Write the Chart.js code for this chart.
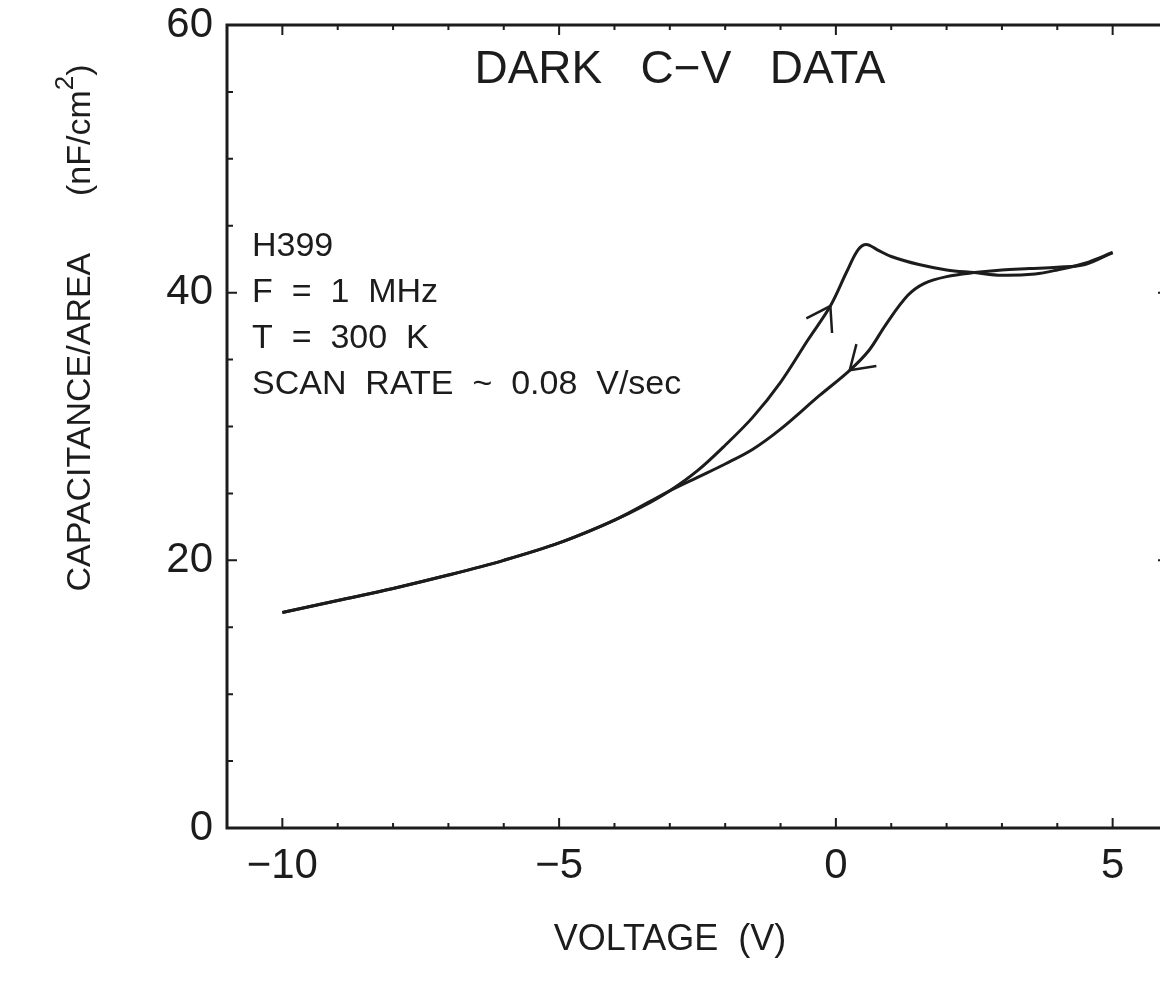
<!DOCTYPE html>
<html>
<head>
<meta charset="utf-8">
<title>Dark C-V data</title>
<script src="https://cdn.jsdelivr.net/npm/chart.js@4.4.1/dist/chart.umd.min.js"></script>
<style>
  html, body { margin: 0; padding: 0; background: #fff; overflow: hidden; }
  #wrap { width: 1200px; height: 984px; }
</style>
</head>
<body>
<div id="wrap"><canvas id="cvChart" width="1200" height="984"></canvas></div>
<script>
// forward sweep, -10 V -> +5 V
const fwdVolts = [-10, -9, -8, -7, -6, -5, -4, -3.5, -3, -2.5, -2, -1.5, -1, -0.5, -0.1, 0.2, 0.4, 0.55, 0.75, 1.0, 1.5, 2.0, 2.5, 3.0, 3.6, 4.0, 4.5, 5.0];
const fwdCap   = [16.1, 17.0, 17.9, 18.9, 20.0, 21.3, 23.0, 24.0, 25.2, 26.7, 28.6, 30.7, 33.3, 36.5, 39.0, 41.6, 43.2, 43.6, 43.2, 42.7, 42.1, 41.7, 41.5, 41.3, 41.4, 41.7, 42.2, 43.0];

// reverse sweep, +5 V -> -10 V
const revVolts = [5.0, 4.5, 4.0, 3.5, 3.0, 2.5, 2.0, 1.6, 1.3, 0.9, 0.6, 0.25, -0.3, -1.0, -1.5, -2.0, -2.5, -3, -4, -5, -6, -7, -8, -9, -10];
const revCap   = [43.0, 42.1, 41.9, 41.8, 41.7, 41.5, 41.2, 40.7, 39.8, 37.6, 35.7, 34.2, 32.3, 29.8, 28.3, 27.2, 26.2, 25.2, 23.0, 21.3, 20.0, 18.9, 17.9, 17.0, 16.1];

// sweep direction arrows sit on these points
const fwdArrowAt = [14];
const revArrowAt = [11];

const xTicks = [-10, -5, 0, 5];
const yTicks = [0, 20, 40, 60];

const infoLines = ['H399', 'F  =  1  MHz', 'T  =  300  K', 'SCAN  RATE  ~  0.08  V/sec'];

const INK = '#1c1c1c';
const FONT = "'Liberation Sans', Arial, sans-serif";

Chart.defaults.font.family = FONT;
Chart.defaults.color = INK;

const toPoints = (xs, ys) => xs.map((x, i) => ({ x: x, y: ys[i] }));
const fmtMinus = v => (v < 0 ? '\u2212' + Math.abs(v) : String(v));

// keep the plot box where the layout padding puts it
const noEdgePadding = s => {
  s.paddingTop = 0; s.paddingBottom = 0;
  s.paddingLeft = 0; s.paddingRight = 0;
};

// frame, inward tick marks, arrows and the in-plot text
const decorations = {
  id: 'decorations',
  afterDatasetsDraw(chart) {
    const { ctx, chartArea: a, scales: { x, y } } = chart;
    ctx.save();
    ctx.strokeStyle = INK;
    ctx.lineWidth = 3;
    ctx.strokeRect(a.left, a.top, a.right - a.left, a.bottom - a.top);

    ctx.lineWidth = 2;
    ctx.beginPath();
    for (let v = Math.ceil(x.min); v <= x.max; v++) {
      const len = v % 5 === 0 ? 10 : 5;
      const px = x.getPixelForValue(v);
      ctx.moveTo(px, a.bottom); ctx.lineTo(px, a.bottom - len);
      ctx.moveTo(px, a.top); ctx.lineTo(px, a.top + len);
    }
    for (let v = y.min; v <= y.max; v += 5) {
      const len = v % 20 === 0 ? 10 : 6;
      const py = y.getPixelForValue(v);
      ctx.moveTo(a.left, py); ctx.lineTo(a.left + len, py);
      ctx.moveTo(a.right, py); ctx.lineTo(a.right - len, py);
    }
    ctx.stroke();

    // arrowheads along the sweep, pointing the way the voltage moved
    ctx.lineWidth = 2.5;
    chart.data.datasets.forEach((ds, di) => {
      const meta = chart.getDatasetMeta(di);
      (ds.arrowAt || []).forEach(i => {
        const p = meta.data[i], p0 = meta.data[i - 1], p1 = meta.data[i + 1];
        const ang = Math.atan2(p1.y - p0.y, p1.x - p0.x) + Math.PI;
        const L = 27, spread = 0.58;
        ctx.beginPath();
        ctx.moveTo(p.x + L * Math.cos(ang - spread), p.y + L * Math.sin(ang - spread));
        ctx.lineTo(p.x, p.y);
        ctx.lineTo(p.x + L * Math.cos(ang + spread), p.y + L * Math.sin(ang + spread));
        ctx.stroke();
      });
    });

    ctx.fillStyle = INK;
    ctx.textBaseline = 'alphabetic';
    ctx.textAlign = 'center';
    ctx.font = '46px ' + FONT;
    ctx.fillText('DARK   C\u2212V   DATA', 680, 83);

    ctx.textAlign = 'left';
    ctx.font = '34px ' + FONT;
    infoLines.forEach((t, i) => ctx.fillText(t, 252, 256 + i * 46));

    // axis titles
    ctx.textAlign = 'center';
    ctx.font = '36px ' + FONT;
    ctx.fillText('VOLTAGE  (V)', 670, 950);

    ctx.translate(90, 328);
    ctx.rotate(-Math.PI / 2);
    const main = 'CAPACITANCE/AREA      (nF/cm';
    const sup = '2';
    ctx.font = '34px ' + FONT;
    const wMain = ctx.measureText(main).width;
    const wClose = ctx.measureText(')').width;
    ctx.font = '26px ' + FONT;
    const wSup = ctx.measureText(sup).width;
    const total = wMain + wSup + wClose;
    let cx = -total / 2;
    ctx.textAlign = 'left';
    ctx.font = '34px ' + FONT;
    ctx.fillText(main, cx, 0);
    cx += wMain;
    ctx.font = '26px ' + FONT;
    ctx.fillText(sup, cx, -17);
    cx += wSup;
    ctx.font = '34px ' + FONT;
    ctx.fillText(')', cx, 0);
    ctx.restore();
  }
};

new Chart(document.getElementById('cvChart'), {
  type: 'scatter',
  data: {
    datasets: [{
      label: 'forward',
      data: toPoints(fwdVolts, fwdCap),
      arrowAt: fwdArrowAt,
    }, {
      label: 'reverse',
      data: toPoints(revVolts, revCap),
      arrowAt: revArrowAt,
    }]
  },
  options: {
    responsive: false,
    animation: false,
    devicePixelRatio: 1,
    layout: { padding: { top: 25, right: 32, left: 0, bottom: 0 } },
    elements: {
      point: { radius: 0, hoverRadius: 0 },
      line: { borderColor: INK, borderWidth: 3, tension: 0.35, fill: false }
    },
    datasets: { scatter: { showLine: true } },
    plugins: {
      legend: { display: false },
      tooltip: { enabled: false }
    },
    scales: {
      x: {
        type: 'linear',
        min: -11,
        max: 6,
        grid: { display: false, drawTicks: false },
        border: { display: false },
        afterBuildTicks: s => { s.ticks = xTicks.map(v => ({ value: v })); },
        afterFit: s => { s.height = 156; noEdgePadding(s); },
        ticks: { font: { size: 42 }, padding: 13, maxRotation: 0, callback: fmtMinus }
      },
      y: {
        type: 'linear',
        min: 0,
        max: 60,
        grid: { display: false, drawTicks: false },
        border: { display: false },
        afterBuildTicks: s => { s.ticks = yTicks.map(v => ({ value: v })); },
        afterFit: s => { s.width = 227; noEdgePadding(s); },
        ticks: { font: { size: 42 }, padding: 14 }
      }
    }
  },
  plugins: [decorations]
});
</script>
</body>
</html>
